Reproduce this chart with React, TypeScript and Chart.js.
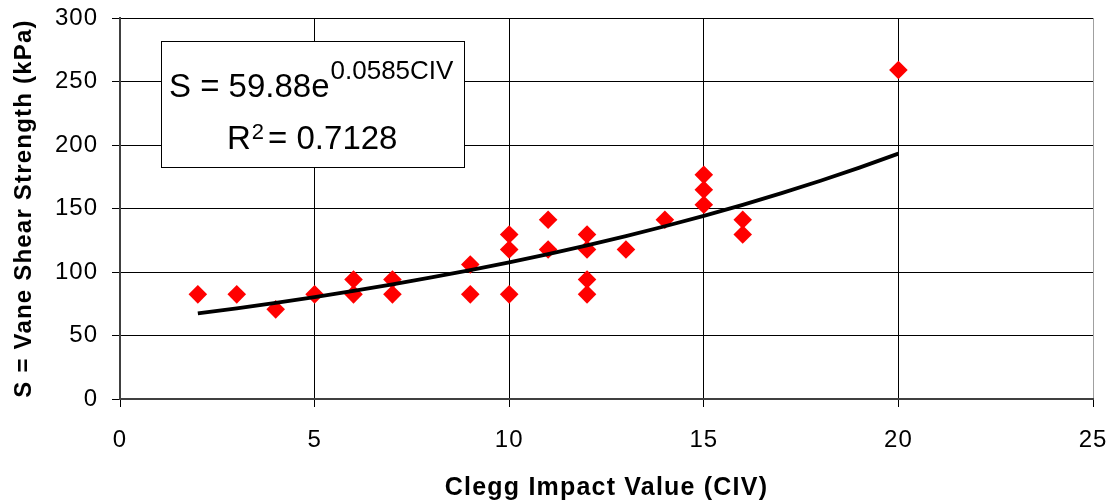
import React, { useEffect, useRef } from "react";
import { Chart, registerables } from "chart.js";

Chart.register(...registerables);

// Measured data: Clegg Impact Value vs vane shear strength
const civValues = [2, 3, 4, 5, 6, 6, 7, 7, 9, 9, 10, 10, 10, 11, 11, 12, 12, 12, 12, 13, 14, 15, 15, 15, 16, 16, 20];
const shearValues = [
  82.4, 82.4, 70.6, 82.4, 94.1, 82.4, 94.1, 82.4, 105.9, 82.4, 129.5, 117.7, 82.4, 141.2, 117.7, 129.5, 117.7,
  94.1, 82.4, 117.7, 141.2, 176.5, 164.8, 153.0, 141.2, 129.5, 259.0,
];

// Exponential trend line
const trendCiv = [2, 3, 4, 5, 6, 7, 8, 9, 10, 11, 12, 13, 14, 15, 16, 17, 18, 19, 20];
const trendShear = [
  67.4, 71.4, 75.7, 80.3, 85.1, 90.3, 95.7, 101.5, 107.6, 114.1, 121.0, 128.3, 136.0, 144.2, 152.9, 162.1, 171.9,
  182.2, 193.2,
];

const xTickValues = [0, 5, 10, 15, 20, 25];
const yTickValues = [0, 50, 100, 150, 200, 250, 300];

const xTitle = "Clegg Impact Value (CIV)";
const yTitle = "S = Vane Shear Strength (kPa)";
const equationMain = "S = 59.88e";
const equationExponent = "0.0585CIV";
const rLabel = "R";
const rSup = "2";
const rValue = "= 0.7128";

const FONT = '"Liberation Sans", Arial, Helvetica, sans-serif';

const drawPlugin = {
  id: "customDraw",
  beforeDraw(chart: any) {
    (chart.ctx as any).letterSpacing = "1.2px";
  },
  afterDatasetsDraw(chart: any) {
    (chart.ctx as any).letterSpacing = "1px";
  },
  afterDraw(chart: any) {
    const ctx = chart.ctx;
    const area = chart.chartArea;
    ctx.save();
    (ctx as any).letterSpacing = "0px";
    const bx = area.left + 41;
    const by = area.top + 23;
    const bw = 303;
    const bh = 126;
    ctx.fillStyle = "#ffffff";
    ctx.fillRect(bx, by, bw, bh);
    ctx.strokeStyle = "#000000";
    ctx.lineWidth = 1;
    ctx.strokeRect(Math.round(bx) + 0.5, Math.round(by) + 0.5, bw, bh);

    ctx.fillStyle = "#000000";
    ctx.textBaseline = "alphabetic";
    ctx.textAlign = "left";
    // Equation line
    ctx.font = `33px ${FONT}`;
    const ex = bx + 8;
    const ey = by + 56;
    ctx.fillText(equationMain, ex, ey);
    const w1 = ctx.measureText(equationMain).width;
    ctx.font = `26px ${FONT}`;
    ctx.fillText(equationExponent, ex + w1 + 1, ey - 18);

    // R^2 line
    ctx.font = `33px ${FONT}`;
    const rx = bx + 66;
    const ry = by + 108;
    ctx.fillText(rLabel, rx, ry);
    const wr = ctx.measureText(rLabel).width;
    ctx.font = `22px ${FONT}`;
    ctx.fillText(rSup, rx + wr + 1, ry - 10);
    const ws = ctx.measureText(rSup).width;
    ctx.font = `33px ${FONT}`;
    ctx.fillText(rValue, rx + wr + ws + 5, ry);
    ctx.restore();
  },
};

export default function App() {
  const canvasRef = useRef<HTMLCanvasElement | null>(null);

  useEffect(() => {
    if (!canvasRef.current) return;
    document.body.style.margin = "0";
    Chart.defaults.font.family = FONT;
    Chart.defaults.color = "#000";

    const scatterData = civValues.map((x, i) => ({ x, y: shearValues[i] }));
    const trendData = trendCiv.map((x, i) => ({ x, y: trendShear[i] }));

    const chart = new Chart(canvasRef.current, {
      type: "scatter",
      data: {
        datasets: [
          {
            label: "Trend",
            data: trendData,
            showLine: true,
            borderColor: "#000000",
            borderWidth: 3.8,
            pointRadius: 0,
            pointHoverRadius: 0,
            fill: false,
            tension: 0,
          } as any,
          {
            label: "Measured",
            data: scatterData,
            pointStyle: "rectRot",
            pointRadius: 9.3,
            pointHoverRadius: 9.3,
            backgroundColor: "#ff0000",
            borderColor: "#ff0000",
            borderWidth: 0,
          } as any,
        ],
      },
      plugins: [drawPlugin as any],
      options: {
        responsive: false,
        animation: false,
        events: [],
        layout: { padding: { left: 0, top: 18, right: 22, bottom: 0 } },
        plugins: {
          legend: { display: false },
          tooltip: { enabled: false },
        },
        scales: {
          x: {
            type: "linear",
            min: 0,
            max: 25,
            afterFit: (s: any) => {
              s.height = 105;
              s.paddingLeft = 0;
              s.paddingRight = 0;
              s.paddingTop = 0;
              s.paddingBottom = 0;
            },
            afterBuildTicks: (s: any) => {
              s.ticks = xTickValues.map((v) => ({ value: v }));
            },
            ticks: {
              z: 1,
              font: { size: 24 },
              color: "#000",
              padding: 19,
              maxRotation: 0,
              autoSkip: false,
            },
            grid: {
              color: (c: any) => (c.tick && c.tick.value === 25 ? "#a0a0a0" : "#000000"),
              lineWidth: 1,
              tickLength: 8,
              tickColor: "#000000",
            },
            border: { display: true, color: "#404040", width: 2 },
            title: {
              display: true,
              text: xTitle,
              font: { size: 25, weight: "bold" },
              color: "#000",
              padding: { top: 0, bottom: 1 },
            },
          },
          y: {
            type: "linear",
            min: 0,
            max: 300,
            afterFit: (s: any) => {
              s.width = 120;
              s.paddingLeft = 0;
              s.paddingRight = 0;
              s.paddingTop = 0;
              s.paddingBottom = 0;
            },
            afterBuildTicks: (s: any) => {
              s.ticks = yTickValues.map((v) => ({ value: v }));
            },
            ticks: {
              z: 1,
              font: { size: 24 },
              color: "#000",
              padding: 14,
              autoSkip: false,
            },
            grid: {
              color: "#000000",
              lineWidth: 1,
              tickLength: 8,
              tickColor: "#000000",
            },
            border: { display: true, color: "#404040", width: 2 },
            title: {
              display: true,
              text: yTitle,
              font: { size: 24, weight: "bold" },
              color: "#000",
              padding: { top: 10, bottom: 0 },
            },
          },
        },
      } as any,
    });
    return () => chart.destroy();
  }, []);

  return (
    <div style={{ position: "fixed", left: 0, top: 0, width: 1115, height: 504, background: "#fff" }}>
      <canvas ref={canvasRef} width={1115} height={504} style={{ display: "block" }} />
    </div>
  );
}
